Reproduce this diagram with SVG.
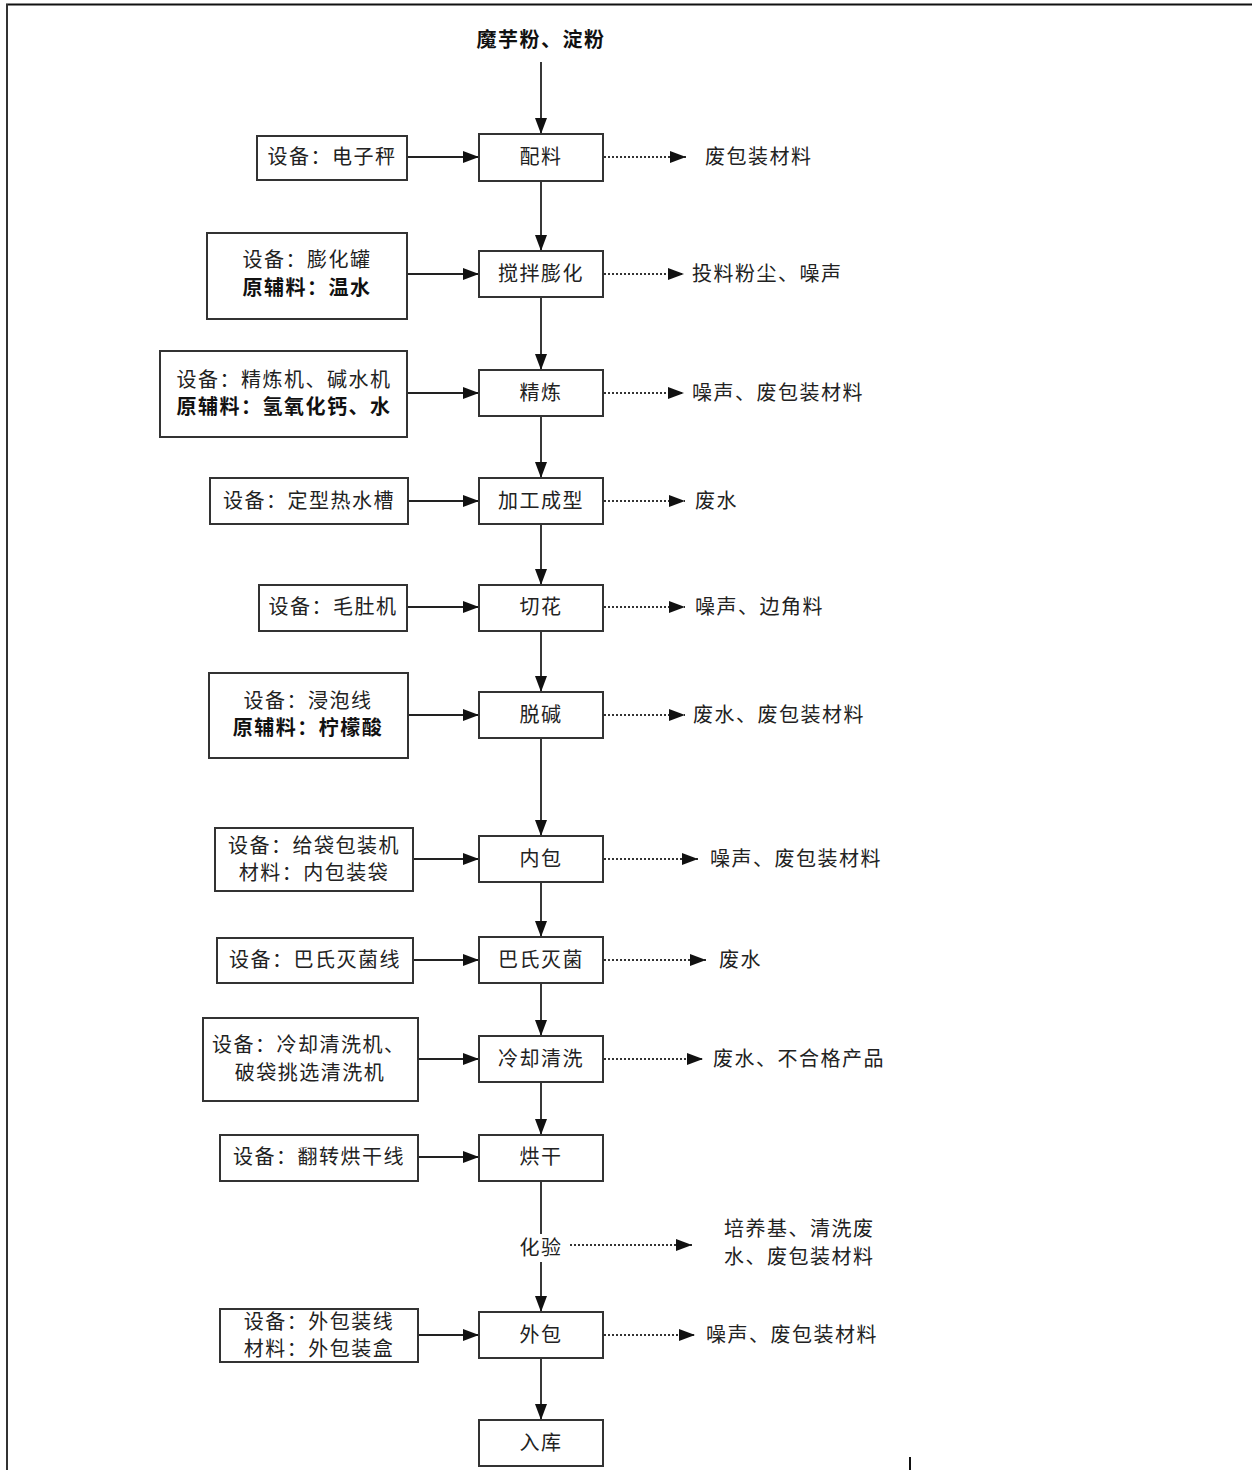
<svg xmlns="http://www.w3.org/2000/svg" width="1252" height="1470" viewBox="0 0 1252 1470">
<style>
text{font-family:"Noto Sans CJK SC","Noto Sans",sans-serif;font-size:20px;fill:#222;letter-spacing:1.5px}
.c{text-anchor:middle}
.b{font-weight:bold;fill:#111}
.box{fill:#fff;stroke:#333;stroke-width:2}
.ln{stroke:#222;stroke-width:1.8;fill:none}
.dt{stroke:#333;stroke-width:2;fill:none;stroke-dasharray:2 2}
</style>
<defs>
<marker id="ah" markerUnits="userSpaceOnUse" markerWidth="18" markerHeight="14" refX="16" refY="6" orient="auto">
<path d="M0,0 L16,6 L0,12 Z" fill="#111"/>
</marker>
</defs>
<rect width="1252" height="1470" fill="#fff"/>
<g id="frame">
<line x1="6" y1="4.5" x2="1252" y2="4.5" stroke="#111" stroke-width="2"/>
<line x1="7" y1="4" x2="7" y2="1470" stroke="#333" stroke-width="2"/>
<line x1="910" y1="1457" x2="910" y2="1470" stroke="#111" stroke-width="2"/>
</g>
<g id="connectors">
<line class="ln" x1="541" y1="62" x2="541" y2="134" marker-end="url(#ah)"/>
<line class="ln" x1="541" y1="181" x2="541" y2="251" marker-end="url(#ah)"/>
<line class="ln" x1="541" y1="297" x2="541" y2="370" marker-end="url(#ah)"/>
<line class="ln" x1="541" y1="416" x2="541" y2="478" marker-end="url(#ah)"/>
<line class="ln" x1="541" y1="524" x2="541" y2="585" marker-end="url(#ah)"/>
<line class="ln" x1="541" y1="631" x2="541" y2="692" marker-end="url(#ah)"/>
<line class="ln" x1="541" y1="738" x2="541" y2="836" marker-end="url(#ah)"/>
<line class="ln" x1="541" y1="882" x2="541" y2="937" marker-end="url(#ah)"/>
<line class="ln" x1="541" y1="983" x2="541" y2="1036" marker-end="url(#ah)"/>
<line class="ln" x1="541" y1="1082" x2="541" y2="1135" marker-end="url(#ah)"/>
<line class="ln" x1="541" y1="1181" x2="541" y2="1234"/>
<line class="ln" x1="541" y1="1262" x2="541" y2="1312" marker-end="url(#ah)"/>
<line class="ln" x1="541" y1="1358" x2="541" y2="1420" marker-end="url(#ah)"/>
<line class="ln" x1="407" y1="157" x2="479" y2="157" marker-end="url(#ah)"/>
<line class="ln" x1="407" y1="274" x2="479" y2="274" marker-end="url(#ah)"/>
<line class="ln" x1="407" y1="393" x2="479" y2="393" marker-end="url(#ah)"/>
<line class="ln" x1="408" y1="501" x2="479" y2="501" marker-end="url(#ah)"/>
<line class="ln" x1="407" y1="607" x2="479" y2="607" marker-end="url(#ah)"/>
<line class="ln" x1="408" y1="715" x2="479" y2="715" marker-end="url(#ah)"/>
<line class="ln" x1="413" y1="859" x2="479" y2="859" marker-end="url(#ah)"/>
<line class="ln" x1="413" y1="960" x2="479" y2="960" marker-end="url(#ah)"/>
<line class="ln" x1="418" y1="1059" x2="479" y2="1059" marker-end="url(#ah)"/>
<line class="ln" x1="418" y1="1157" x2="479" y2="1157" marker-end="url(#ah)"/>
<line class="ln" x1="418" y1="1335" x2="479" y2="1335" marker-end="url(#ah)"/>
<line class="dt" x1="604" y1="157" x2="686" y2="157" marker-end="url(#ah)"/>
<line class="dt" x1="604" y1="274" x2="684" y2="274" marker-end="url(#ah)"/>
<line class="dt" x1="604" y1="393" x2="684" y2="393" marker-end="url(#ah)"/>
<line class="dt" x1="604" y1="501" x2="685" y2="501" marker-end="url(#ah)"/>
<line class="dt" x1="604" y1="607" x2="685" y2="607" marker-end="url(#ah)"/>
<line class="dt" x1="604" y1="715" x2="685" y2="715" marker-end="url(#ah)"/>
<line class="dt" x1="604" y1="859" x2="698" y2="859" marker-end="url(#ah)"/>
<line class="dt" x1="604" y1="960" x2="706" y2="960" marker-end="url(#ah)"/>
<line class="dt" x1="604" y1="1059" x2="703" y2="1059" marker-end="url(#ah)"/>
<line class="dt" x1="570" y1="1245" x2="692" y2="1245" marker-end="url(#ah)"/>
<line class="dt" x1="604" y1="1335" x2="695" y2="1335" marker-end="url(#ah)"/>
</g>
<g id="n-title"><text class="c b" x="541" y="47">魔芋粉、淀粉</text></g>
<g id="n-peiliao"><rect class="box" x="479" y="134" width="124" height="47"/><text class="c" x="541" y="164">配料</text></g>
<g id="e-peiliao"><rect class="box" x="257" y="136" width="150" height="44"/><text class="c" x="332" y="164">设备：电子秤</text></g>
<g id="o-peiliao"><text x="705" y="164">废包装材料</text></g>

<g id="n-jiaoban"><rect class="box" x="479" y="251" width="124" height="46"/><text class="c" x="541" y="281">搅拌膨化</text></g>
<g id="e-jiaoban"><rect class="box" x="207" y="233" width="200" height="86"/><text class="c" x="307" y="267">设备：膨化罐</text><text class="c b" x="307" y="295">原辅料：温水</text></g>
<g id="o-jiaoban"><text x="692" y="281">投料粉尘、噪声</text></g>

<g id="n-jinglian"><rect class="box" x="479" y="370" width="124" height="46"/><text class="c" x="541" y="400">精炼</text></g>
<g id="e-jinglian"><rect class="box" x="160" y="351" width="247" height="86"/><text class="c" x="284" y="387">设备：精炼机、碱水机</text><text class="c b" x="284" y="414">原辅料：氢氧化钙、水</text></g>
<g id="o-jinglian"><text x="692" y="400">噪声、废包装材料</text></g>

<g id="n-jiagong"><rect class="box" x="479" y="478" width="124" height="46"/><text class="c" x="541" y="508">加工成型</text></g>
<g id="e-jiagong"><rect class="box" x="210" y="478" width="198" height="46"/><text class="c" x="309" y="508">设备：定型热水槽</text></g>
<g id="o-jiagong"><text x="695" y="508">废水</text></g>

<g id="n-qiehua"><rect class="box" x="479" y="585" width="124" height="46"/><text class="c" x="541" y="614">切花</text></g>
<g id="e-qiehua"><rect class="box" x="259" y="585" width="148" height="46"/><text class="c" x="333" y="614">设备：毛肚机</text></g>
<g id="o-qiehua"><text x="695" y="614">噪声、边角料</text></g>

<g id="n-tuojian"><rect class="box" x="479" y="692" width="124" height="46"/><text class="c" x="541" y="722">脱碱</text></g>
<g id="e-tuojian"><rect class="box" x="209" y="673" width="199" height="85"/><text class="c" x="308" y="708">设备：浸泡线</text><text class="c b" x="308" y="735">原辅料：柠檬酸</text></g>
<g id="o-tuojian"><text x="693" y="722">废水、废包装材料</text></g>

<g id="n-neibao"><rect class="box" x="479" y="836" width="124" height="46"/><text class="c" x="541" y="866">内包</text></g>
<g id="e-neibao"><rect class="box" x="215" y="828" width="198" height="63"/><text class="c" x="314" y="853">设备：给袋包装机</text><text class="c" x="314" y="880">材料：内包装袋</text></g>
<g id="o-neibao"><text x="710" y="866">噪声、废包装材料</text></g>

<g id="n-bashi"><rect class="box" x="479" y="937" width="124" height="46"/><text class="c" x="541" y="967">巴氏灭菌</text></g>
<g id="e-bashi"><rect class="box" x="217" y="938" width="196" height="45"/><text class="c" x="315" y="967">设备：巴氏灭菌线</text></g>
<g id="o-bashi"><text x="719" y="967">废水</text></g>

<g id="n-lengque"><rect class="box" x="479" y="1036" width="124" height="46"/><text class="c" x="541" y="1066">冷却清洗</text></g>
<g id="e-lengque"><rect class="box" x="203" y="1018" width="215" height="83"/><text x="212" y="1052">设备：冷却清洗机、</text><text class="c" x="310" y="1080">破袋挑选清洗机</text></g>
<g id="o-lengque"><text x="713" y="1066">废水、不合格产品</text></g>

<g id="n-honggan"><rect class="box" x="479" y="1135" width="124" height="46"/><text class="c" x="541" y="1164">烘干</text></g>
<g id="e-honggan"><rect class="box" x="220" y="1135" width="198" height="46"/><text class="c" x="319" y="1164">设备：翻转烘干线</text></g>

<g id="n-huayan"><text class="c" x="541" y="1255">化验</text></g>
<g id="o-huayan"><text x="724" y="1236">培养基、清洗废</text><text x="724" y="1264">水、废包装材料</text></g>

<g id="n-waibao"><rect class="box" x="479" y="1312" width="124" height="46"/><text class="c" x="541" y="1342">外包</text></g>
<g id="e-waibao"><rect class="box" x="220" y="1309" width="198" height="53"/><text class="c" x="319" y="1329">设备：外包装线</text><text class="c" x="319" y="1356">材料：外包装盒</text></g>
<g id="o-waibao"><text x="706" y="1342">噪声、废包装材料</text></g>

<g id="n-ruku"><rect class="box" x="479" y="1420" width="124" height="46"/><text class="c" x="541" y="1450">入库</text></g>
</svg>
